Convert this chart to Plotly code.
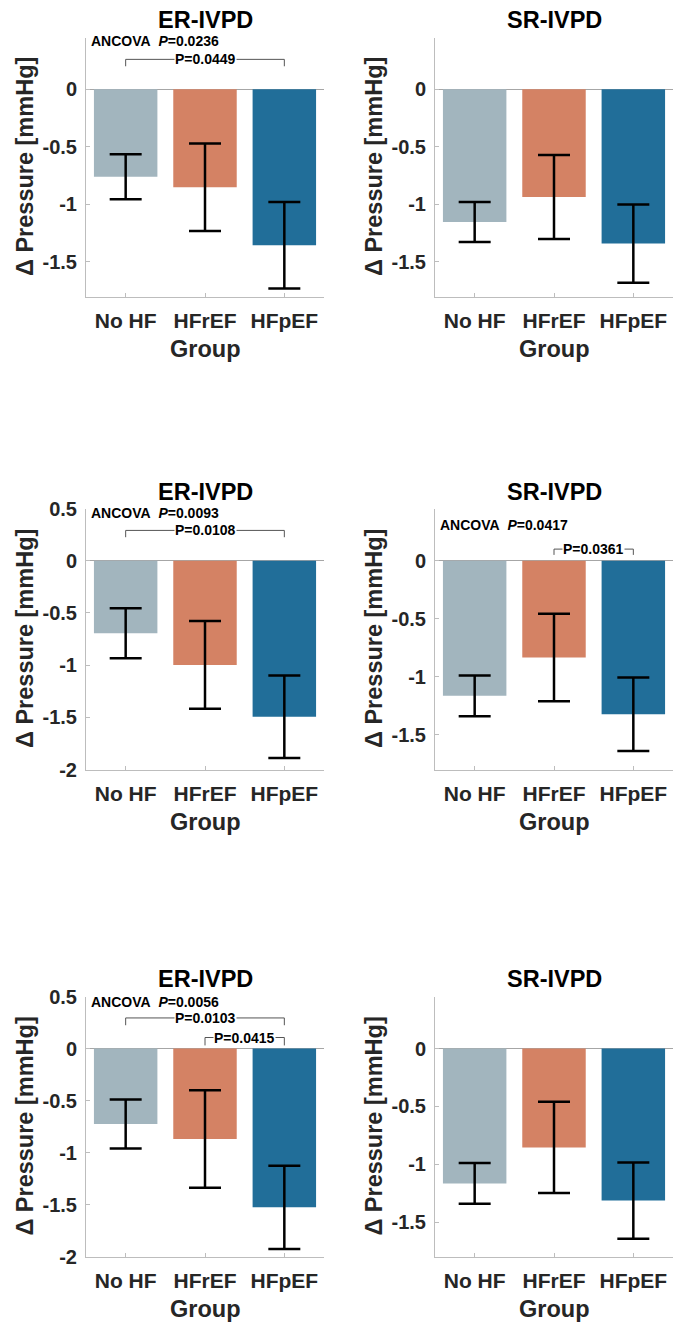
import plotly.graph_objects as go

# ---------------- data ----------------
categories = ["No HF", "HFrEF", "HFpEF"]
panel_titles = ["ER-IVPD", "SR-IVPD", "ER-IVPD", "SR-IVPD", "ER-IVPD", "SR-IVPD"]

er1_mean = [-0.76, -0.85, -1.355]
er1_sem = [0.195, 0.38, 0.375]
sr1_mean = [-1.153, -0.935, -1.34]
sr1_sem = [0.173, 0.365, 0.34]

er2_mean = [-0.695, -0.998, -1.495]
er2_sem = [0.24, 0.42, 0.395]
sr2_mean = [-1.165, -0.834, -1.323]
sr2_sem = [0.175, 0.377, 0.317]

er3_mean = [-0.725, -0.869, -1.526]
er3_sem = [0.235, 0.469, 0.399]
sr3_mean = [-1.166, -0.855, -1.315]
sr3_sem = [0.177, 0.395, 0.33]

ancova_p = ["0.0236", None, "0.0093", "0.0417", "0.0056", None]
# pairwise comparisons per panel: (group i, group j, p text)
pairwise = [
    [(0, 2, "0.0449")],
    [],
    [(0, 2, "0.0108")],
    [(1, 2, "0.0361")],
    [(0, 2, "0.0103"), (1, 2, "0.0415")],
    [],
]
ytick_vals = [-2, -1.5, -1, -0.5, 0, 0.5]
ytick_text = ["-2", "-1.5", "-1", "-0.5", "0", "0.5"]

means = [er1_mean, sr1_mean, er2_mean, sr2_mean, er3_mean, sr3_mean]
sems = [er1_sem, sr1_sem, er2_sem, sr2_sem, er3_sem, sr3_sem]

# ---------------- layout / style ----------------
W, H = 684, 1322
FONT = "Liberation Sans, Arial, Helvetica, sans-serif"
TXT = "#262626"
AX = "#bdbdbd"
ZL = "#a6a6a6"
bar_colors = ["#A2B5BE", "#D48264", "#216E99"]

col_x = [(86, 324), (435, 673)]
row_y = [(37.5, 296.5), (508.5, 769.5), (996.5, 1256.7)]
y_ranges = [[-1.8, 0.45], [-1.8, 0.45], [-2, 0.5], [-1.8, 0.45], [-2, 0.5], [-1.8, 0.45]]
ancova_y = [0.42, None, 0.455, 0.31, 0.45, None]
# bracket geometry (line y, end-tick y) in data units, per comparison
bracket_y = [
    [(0.26, 0.20)],
    [],
    [(0.29, 0.225)],
    [(0.10, 0.05)],
    [(0.294, 0.224), (0.106, 0.03)],
    [],
]
title_y = [20, 492, 979]

fig = go.Figure()
annotations = []
shapes = []

for k in range(6):
    r, c = divmod(k, 2)
    xa = "x" if k == 0 else f"x{k+1}"
    ya = "y" if k == 0 else f"y{k+1}"
    xkey = "xaxis" if k == 0 else f"xaxis{k+1}"
    ykey = "yaxis" if k == 0 else f"yaxis{k+1}"
    px0, px1 = col_x[c]
    py0, py1 = row_y[r]

    fig.add_trace(go.Bar(
        x=categories, y=means[k], xaxis=xa, yaxis=ya,
        marker=dict(color=bar_colors, line=dict(width=0)),
        error_y=dict(type="data", array=sems[k], visible=True,
                     color="black", thickness=2.5, width=16),
        showlegend=False, hoverinfo="skip",
    ))

    lo, hi = y_ranges[k]
    tv = [v for v, t in zip(ytick_vals, ytick_text) if lo - 1e-9 <= v <= hi + 1e-9]
    tt = [t for v, t in zip(ytick_vals, ytick_text) if lo - 1e-9 <= v <= hi + 1e-9]

    fig.layout[xkey] = dict(
        domain=[px0 / W, px1 / W], anchor=ya, type="category",
        range=[-0.5, 2.5], showline=True, linecolor=AX, linewidth=1,
        ticks="inside", ticklen=4, tickcolor=AX, showgrid=False, zeroline=False,
        tickfont=dict(family=FONT, size=21, color=TXT, weight="bold"),
        ticklabelstandoff=5, automargin=False, fixedrange=True,
    )
    fig.layout[ykey] = dict(
        domain=[1 - py1 / H, 1 - py0 / H], anchor=xa, range=[lo, hi],
        tickmode="array", tickvals=tv, ticktext=tt,
        showline=True, linecolor=AX, linewidth=1,
        ticks="inside", ticklen=4, tickcolor=AX, showgrid=False,
        zeroline=True, zerolinecolor=ZL, zerolinewidth=1,
        tickfont=dict(family=FONT, size=20, color=TXT, weight="bold"),
        ticklabelstandoff=4, automargin=False, fixedrange=True,
    )

    # panel title
    annotations.append(dict(
        text="<b>%s</b>" % panel_titles[k], xref="paper", yref="paper",
        x=(px0 + px1) / 2 / W, y=1 - title_y[r] / H, xanchor="center", yanchor="middle",
        showarrow=False, font=dict(family=FONT, size=23.5, color="black"),
    ))
    # y axis title
    annotations.append(dict(
        text="<b>\u0394 Pressure [mmHg]</b>", xref="paper", yref="paper",
        x=(px0 - 61) / W, y=1 - (py0 + py1) / 2 / H, xanchor="center", yanchor="middle",
        textangle=-90, showarrow=False, font=dict(family=FONT, size=23.5, color=TXT),
    ))
    # x axis title
    annotations.append(dict(
        text="<b>Group</b>", xref="paper", yref="paper",
        x=(px0 + px1) / 2 / W, y=1 - (py1 + 52) / H, xanchor="center", yanchor="middle",
        showarrow=False, font=dict(family=FONT, size=23.5, color=TXT),
    ))
    # ANCOVA text
    if ancova_p[k] is not None:
        annotations.append(dict(
            text="<b>ANCOVA\u00a0\u00a0<i>P</i>=%s</b>" % ancova_p[k],
            xref="paper", yref=ya, x=(px0 + 4) / W, y=ancova_y[k],
            xanchor="left", yanchor="middle", showarrow=False, borderpad=0,
            font=dict(family=FONT, size=14, color="black"),
        ))
    # pairwise brackets
    for (i, j, ptxt), (yl, ye) in zip(pairwise[k], bracket_y[k]):
        shapes.append(dict(
            type="path", xref=xa, yref=ya,
            path="M %d,%g L %d,%g L %d,%g L %d,%g" % (i, ye, i, yl, j, yl, j, ye),
            line=dict(color="#555555", width=1),
        ))
        annotations.append(dict(
            text="<b>P=%s</b>" % ptxt, xref=xa, yref=ya, x=(i + j) / 2, y=yl,
            xanchor="center", yanchor="middle", showarrow=False,
            bgcolor="white", borderpad=0,
            font=dict(family=FONT, size=14, color="black"),
        ))

fig.update_layout(
    width=W, height=H, margin=dict(l=0, r=0, t=0, b=0, autoexpand=False),
    paper_bgcolor="white", plot_bgcolor="white",
    bargap=0.2, annotations=annotations, shapes=shapes,
    font=dict(family=FONT, color=TXT),
)

fig.write_html("out.html", config={"displayModeBar": False},
               post_script="document.body.style.margin='0';")
